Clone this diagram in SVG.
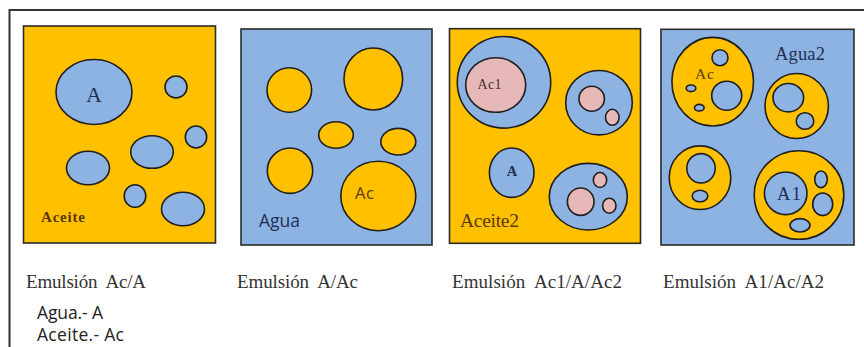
<svg xmlns="http://www.w3.org/2000/svg" width="864" height="347" viewBox="0 0 864 347">
  <style>
    .oil { fill: #FFC000; }
    .water { fill: #8DB3E2; }
    .pink { fill: #E6B9B8; }
    .ln { stroke: #1f1f1f; stroke-width: 1.6; }
    .box { stroke: #2b2b2b; stroke-width: 1.6; }
    .serif { font-family: "Liberation Serif", "DejaVu Serif", serif; }
    .sans { font-family: "Open Sans", "Liberation Sans", sans-serif; }
    .cap { font-family: "Liberation Serif", "DejaVu Serif", serif; font-size: 19px; fill: #333333; }
    .key { font-family: "Open Sans", "Liberation Sans", sans-serif; font-size: 17.5px; fill: #222222; }
    .brown { fill: #5a3a06; }
    .navy { fill: #1f2f55; }
  </style>

  <rect width="864" height="347" fill="#ffffff"/>

  <!-- outer frame: top and left edges -->
  <path d="M9.5,347 V10 H864" fill="none" stroke="#333333" stroke-width="2"/>

  <!-- Emulsion Ac/A: water droplets in oil -->
  <g id="panel-ac-a">
    <rect class="oil box" x="23.5" y="26" width="192" height="217"/>
    <ellipse class="water ln" cx="94" cy="92" rx="38" ry="32.5"/>
    <ellipse class="water ln" cx="176" cy="87" rx="11" ry="11"/>
    <ellipse class="water ln" cx="196" cy="137" rx="10.7" ry="11"/>
    <ellipse class="water ln" cx="152" cy="152" rx="21.3" ry="16.3"/>
    <ellipse class="water ln" cx="88" cy="168" rx="21.5" ry="16.7"/>
    <ellipse class="water ln" cx="135" cy="196" rx="10.8" ry="11.3"/>
    <ellipse class="water ln" cx="183" cy="209" rx="21.5" ry="16.7"/>
    <text class="serif navy" x="94" y="102" font-size="22" text-anchor="middle">A</text>
    <text class="serif brown" x="41" y="222" font-size="15" font-weight="bold" textLength="44" lengthAdjust="spacing">Aceite</text>
  </g>

  <!-- Emulsion A/Ac: oil droplets in water -->
  <g id="panel-a-ac">
    <rect class="water box" x="241" y="29" width="191" height="216"/>
    <ellipse class="oil ln" cx="289.3" cy="90" rx="22.3" ry="22.2"/>
    <ellipse class="oil ln" cx="373.3" cy="79" rx="29.3" ry="31"/>
    <ellipse class="oil ln" cx="336" cy="135" rx="17.3" ry="13.3"/>
    <ellipse class="oil ln" cx="398.3" cy="141.7" rx="17.5" ry="13.3"/>
    <ellipse class="oil ln" cx="290" cy="170.7" rx="22.7" ry="22.7"/>
    <ellipse class="oil ln" cx="378.3" cy="196" rx="37.5" ry="34.7"/>
    <text class="sans brown" x="355" y="199" font-size="16.5" textLength="19" lengthAdjust="spacing">Ac</text>
    <text class="sans navy" x="259" y="227" font-size="17.5" textLength="41" lengthAdjust="spacing">Agua</text>
  </g>

  <!-- Emulsion Ac1/A/Ac2 -->
  <g id="panel-ac1-a-ac2">
    <rect class="oil box" x="449.5" y="28.7" width="191" height="214.6"/>
    <ellipse class="water ln" cx="504" cy="82.3" rx="46.7" ry="45.8"/>
    <ellipse class="pink ln" cx="495.7" cy="85" rx="30" ry="27.3"/>
    <text class="serif" x="477.5" y="89" font-size="14" fill="#4a3030" textLength="24" lengthAdjust="spacing">Ac1</text>
    <ellipse class="water ln" cx="599" cy="102.7" rx="33.3" ry="32.2"/>
    <ellipse class="pink ln" cx="591.7" cy="98.7" rx="12.7" ry="12.5"/>
    <ellipse class="pink ln" cx="612.3" cy="117.3" rx="6.8" ry="8"/>
    <ellipse class="water ln" cx="511.7" cy="172.7" rx="22.3" ry="24.7"/>
    <text class="serif navy" x="512" y="176" font-size="14.5" font-weight="bold" text-anchor="middle">A</text>
    <ellipse class="water ln" cx="588.3" cy="196.7" rx="39" ry="33.3"/>
    <ellipse class="pink ln" cx="580.7" cy="201.7" rx="13.3" ry="13.7"/>
    <ellipse class="pink ln" cx="600" cy="180" rx="6.7" ry="7.5"/>
    <ellipse class="pink ln" cx="609.3" cy="205.7" rx="6.7" ry="7.5"/>
    <text class="serif brown" x="460" y="227" font-size="19.5" textLength="59" lengthAdjust="spacing">Aceite2</text>
  </g>

  <!-- Emulsion A1/Ac/A2 -->
  <g id="panel-a1-ac-a2">
    <rect class="water box" x="661" y="29.3" width="193" height="215.7"/>
    <ellipse class="oil ln" cx="712.7" cy="81.7" rx="40.8" ry="44.3"/>
    <ellipse class="water ln" cx="720" cy="57.7" rx="8" ry="8"/>
    <ellipse class="water ln" cx="726.7" cy="95.7" rx="15" ry="14.5"/>
    <ellipse class="water ln" cx="691" cy="88.3" rx="4.8" ry="3.3"/>
    <ellipse class="water ln" cx="699.3" cy="107.7" rx="4.8" ry="3.3"/>
    <text class="serif brown" x="695" y="79" font-size="15.5" textLength="19" lengthAdjust="spacing">Ac</text>
    <text class="serif navy" x="775" y="59.5" font-size="18.5" textLength="50" lengthAdjust="spacing">Agua2</text>
    <ellipse class="oil ln" cx="796.7" cy="106" rx="31.7" ry="32.5"/>
    <ellipse class="water ln" cx="788.3" cy="97.7" rx="15.3" ry="14.2"/>
    <ellipse class="water ln" cx="805" cy="121" rx="8.8" ry="8.3"/>
    <ellipse class="oil ln" cx="700" cy="177.7" rx="30.8" ry="31.8"/>
    <ellipse class="water ln" cx="701" cy="168.3" rx="14.2" ry="14.7"/>
    <ellipse class="water ln" cx="700" cy="196" rx="7.8" ry="5.8"/>
    <ellipse class="oil ln" cx="799" cy="195" rx="44.8" ry="44.3"/>
    <ellipse class="water ln" cx="785.7" cy="193.3" rx="21.3" ry="21.3"/>
    <text class="serif navy" x="777" y="200" font-size="18.5" textLength="24" lengthAdjust="spacing">A1</text>
    <ellipse class="water ln" cx="821" cy="179.3" rx="6.3" ry="8.3"/>
    <ellipse class="water ln" cx="822.7" cy="204.3" rx="10" ry="11.3"/>
    <ellipse class="water ln" cx="800" cy="225.3" rx="10" ry="6.7"/>
  </g>

  <!-- captions -->
  <g id="captions">
    <text class="cap" x="26" y="288" textLength="120" lengthAdjust="spacing" xml:space="preserve">Emulsión  Ac/A</text>
    <text class="cap" x="237" y="288" textLength="121" lengthAdjust="spacing" xml:space="preserve">Emulsión  A/Ac</text>
    <text class="cap" x="452" y="288" textLength="170" lengthAdjust="spacing" xml:space="preserve">Emulsión  Ac1/A/Ac2</text>
    <text class="cap" x="663" y="288" textLength="161" lengthAdjust="spacing" xml:space="preserve">Emulsión  A1/Ac/A2</text>
    <text class="key" x="37" y="319" textLength="66" lengthAdjust="spacing">Agua.- A</text>
    <text class="key" x="37" y="341" textLength="87" lengthAdjust="spacing">Aceite.- Ac</text>
  </g>
</svg>
